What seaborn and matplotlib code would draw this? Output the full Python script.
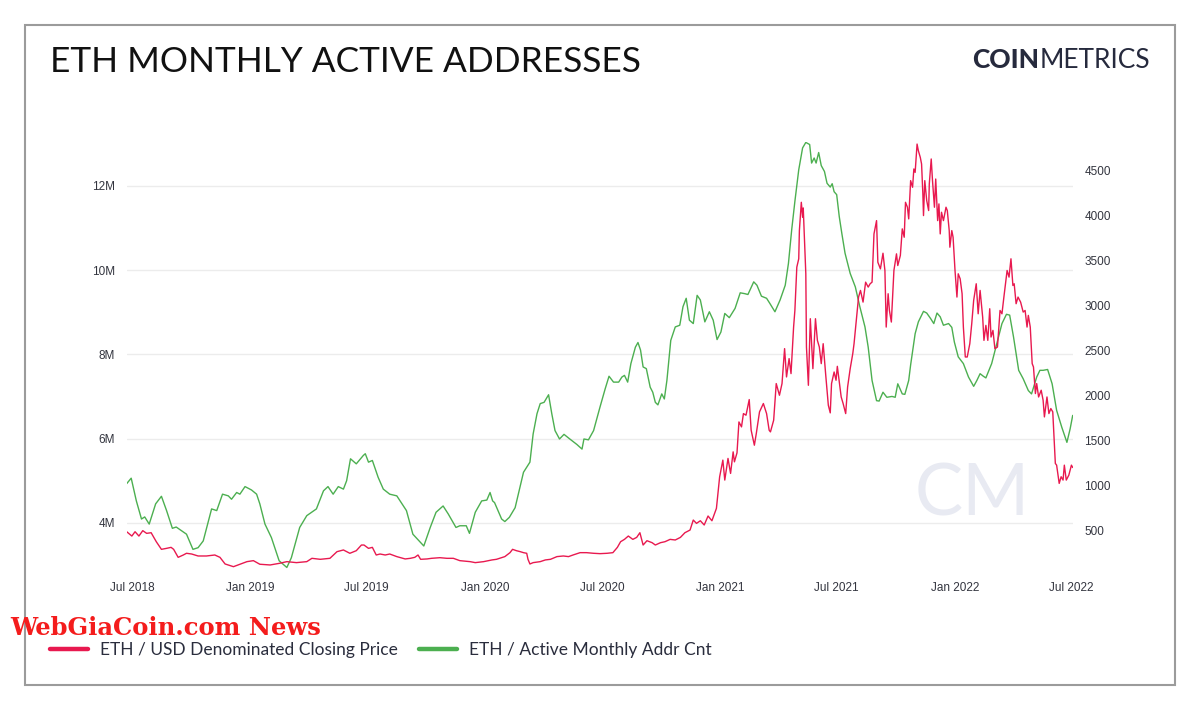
import pandas as pd
import seaborn as sns
import matplotlib.pyplot as plt
import matplotlib.dates as mdates
from matplotlib.lines import Line2D
from matplotlib.patches import Rectangle

# ETH monthly active addresses (millions)
addr_dates = [
    "2018-06-23", "2018-06-30", "2018-07-08", "2018-07-16", "2018-07-21", "2018-07-28", "2018-08-07", "2018-08-16",
    "2018-08-24", "2018-09-02", "2018-09-08", "2018-09-24", "2018-10-04", "2018-10-12", "2018-10-20", "2018-11-02",
    "2018-11-10", "2018-11-19", "2018-11-28", "2018-12-03", "2018-12-11", "2018-12-16", "2018-12-24", "2019-01-03",
    "2019-01-11", "2019-01-16", "2019-01-24", "2019-02-03", "2019-02-15", "2019-02-21", "2019-02-27", "2019-03-06",
    "2019-03-19", "2019-03-30", "2019-04-14", "2019-04-25", "2019-05-02", "2019-05-10", "2019-05-18", "2019-05-26",
    "2019-05-31", "2019-06-06", "2019-06-15", "2019-06-26", "2019-06-29", "2019-07-04", "2019-07-10", "2019-07-19",
    "2019-07-27", "2019-08-06", "2019-08-17", "2019-09-01", "2019-09-11", "2019-09-28", "2019-10-08", "2019-10-17",
    "2019-10-28", "2019-11-05", "2019-11-17", "2019-11-23", "2019-12-03", "2019-12-08", "2019-12-17", "2019-12-27",
    "2020-01-04", "2020-01-09", "2020-01-13", "2020-01-16", "2020-01-27", "2020-02-01", "2020-02-08", "2020-02-17",
    "2020-03-01", "2020-03-11", "2020-03-16", "2020-03-22", "2020-03-27", "2020-04-02", "2020-04-09", "2020-04-14",
    "2020-04-19", "2020-04-26", "2020-05-03", "2020-05-12", "2020-05-23", "2020-05-31", "2020-06-03", "2020-06-10",
    "2020-06-18", "2020-06-28", "2020-07-06", "2020-07-12", "2020-07-19", "2020-07-27", "2020-08-01", "2020-08-05",
    "2020-08-10", "2020-08-15", "2020-08-22", "2020-08-26", "2020-08-30", "2020-09-03", "2020-09-08", "2020-09-14",
    "2020-09-18", "2020-09-22", "2020-09-26", "2020-10-02", "2020-10-06", "2020-10-10", "2020-10-16", "2020-10-23",
    "2020-10-30", "2020-11-04", "2020-11-09", "2020-11-14", "2020-11-20", "2020-11-26", "2020-12-01", "2020-12-08",
    "2020-12-15", "2020-12-21", "2020-12-27", "2021-01-02", "2021-01-08", "2021-01-15", "2021-01-24", "2021-02-01",
    "2021-02-08", "2021-02-13", "2021-02-22", "2021-02-27", "2021-03-06", "2021-03-14", "2021-03-19", "2021-03-27",
    "2021-04-04", "2021-04-12", "2021-04-17", "2021-04-22", "2021-04-27", "2021-05-03", "2021-05-09", "2021-05-14",
    "2021-05-20", "2021-05-23", "2021-05-27", "2021-05-30", "2021-06-03", "2021-06-07", "2021-06-12", "2021-06-16",
    "2021-06-21", "2021-06-24", "2021-06-27", "2021-07-01", "2021-07-05", "2021-07-09", "2021-07-14", "2021-07-22",
    "2021-07-30", "2021-08-06", "2021-08-14", "2021-08-19", "2021-08-25", "2021-09-01", "2021-09-05", "2021-09-11",
    "2021-09-17", "2021-09-25", "2021-09-30", "2021-10-04", "2021-10-11", "2021-10-15", "2021-10-21", "2021-10-24",
    "2021-10-31", "2021-11-05", "2021-11-13", "2021-11-18", "2021-11-24", "2021-11-29", "2021-12-04", "2021-12-09",
    "2021-12-14", "2021-12-22", "2021-12-27", "2021-12-31", "2022-01-06", "2022-01-14", "2022-01-22", "2022-01-30",
    "2022-02-04", "2022-02-09", "2022-02-14", "2022-02-18", "2022-02-27", "2022-03-07", "2022-03-15", "2022-03-22",
    "2022-03-27", "2022-04-02", "2022-04-10", "2022-04-17", "2022-04-25", "2022-04-30", "2022-05-08", "2022-05-13",
    "2022-05-18", "2022-05-25", "2022-06-01", "2022-06-08", "2022-06-16", "2022-06-24", "2022-06-29", "2022-07-03",
]
addr_millions = [
    4.93, 5.06, 4.52, 4.09, 4.14, 3.97, 4.45, 4.63,
    4.29, 3.87, 3.90, 3.73, 3.37, 3.41, 3.57, 4.33,
    4.29, 4.68, 4.64, 4.56, 4.72, 4.68, 4.86, 4.78,
    4.68, 4.45, 3.97, 3.65, 3.10, 3.02, 2.94, 3.17,
    3.89, 4.17, 4.33, 4.76, 4.86, 4.68, 4.86, 4.80,
    5.00, 5.52, 5.40, 5.60, 5.64, 5.44, 5.48, 5.08,
    4.80, 4.68, 4.64, 4.29, 3.73, 3.45, 3.89, 4.25,
    4.40, 4.21, 3.89, 3.93, 3.93, 3.75, 4.25, 4.52,
    4.54, 4.72, 4.52, 4.48, 4.09, 4.03, 4.13, 4.36,
    5.20, 5.44, 6.11, 6.59, 6.83, 6.86, 7.04, 6.59,
    6.19, 5.99, 6.10, 5.99, 5.86, 5.75, 5.99, 5.97,
    6.19, 6.75, 7.18, 7.48, 7.34, 7.34, 7.46, 7.50,
    7.34, 7.78, 8.17, 8.28, 8.10, 7.70, 7.66, 7.22,
    7.10, 6.86, 6.80, 7.06, 6.94, 7.38, 8.33, 8.65,
    8.69, 9.13, 9.33, 8.81, 8.73, 9.40, 9.29, 8.77,
    9.01, 8.81, 8.35, 8.53, 8.97, 8.87, 9.09, 9.46,
    9.44, 9.42, 9.72, 9.64, 9.38, 9.33, 9.21, 9.01,
    9.29, 9.64, 10.16, 10.95, 11.63, 12.38, 12.90, 13.03,
    12.98, 12.54, 12.66, 12.54, 12.79, 12.48, 12.34, 12.06,
    11.97, 12.05, 11.86, 11.79, 11.27, 10.87, 10.40, 9.92,
    9.60, 9.13, 8.65, 8.17, 7.38, 6.90, 6.89, 7.10,
    6.98, 7.00, 6.98, 7.30, 7.06, 7.05, 7.38, 7.75,
    8.49, 8.77, 9.02, 8.98, 8.85, 8.73, 8.98, 8.89,
    8.69, 8.73, 8.64, 8.29, 7.94, 7.78, 7.46, 7.24,
    7.38, 7.54, 7.48, 7.44, 7.78, 8.26, 8.73, 8.95,
    8.93, 8.41, 7.62, 7.42, 7.14, 7.06, 7.46, 7.62,
    7.62, 7.64, 7.30, 6.67, 6.27, 5.91, 6.23, 6.55,
]

# ETH / USD closing price
price_dates = [
    "2018-06-23", "2018-07-01", "2018-07-06", "2018-07-12", "2018-07-18", "2018-07-24", "2018-07-31", "2018-08-08",
    "2018-08-16", "2018-08-24", "2018-08-31", "2018-09-04", "2018-09-11", "2018-09-19", "2018-09-24", "2018-10-02",
    "2018-10-12", "2018-10-25", "2018-11-07", "2018-11-15", "2018-11-23", "2018-12-06", "2018-12-13", "2018-12-27",
    "2019-01-06", "2019-01-16", "2019-02-01", "2019-02-16", "2019-02-27", "2019-03-14", "2019-03-30", "2019-04-07",
    "2019-04-20", "2019-05-05", "2019-05-16", "2019-05-26", "2019-06-05", "2019-06-15", "2019-06-23", "2019-06-27",
    "2019-07-04", "2019-07-10", "2019-07-16", "2019-07-22", "2019-07-30", "2019-08-06", "2019-08-17", "2019-08-30",
    "2019-09-07", "2019-09-14", "2019-09-19", "2019-09-23", "2019-10-03", "2019-10-10", "2019-10-23", "2019-11-03",
    "2019-11-13", "2019-11-23", "2019-12-09", "2019-12-17", "2019-12-30", "2020-01-12", "2020-01-19", "2020-02-01",
    "2020-02-09", "2020-02-13", "2020-02-19", "2020-02-25", "2020-03-01", "2020-03-06", "2020-03-08", "2020-03-11",
    "2020-03-16", "2020-03-27", "2020-04-04", "2020-04-12", "2020-04-22", "2020-05-02", "2020-05-10", "2020-05-17",
    "2020-05-28", "2020-06-07", "2020-06-18", "2020-06-28", "2020-07-09", "2020-07-18", "2020-07-25", "2020-07-30",
    "2020-08-05", "2020-08-11", "2020-08-18", "2020-08-24", "2020-08-29", "2020-09-03", "2020-09-09", "2020-09-17",
    "2020-09-22", "2020-09-30", "2020-10-07", "2020-10-15", "2020-10-23", "2020-10-31", "2020-11-07", "2020-11-15",
    "2020-11-20", "2020-11-25", "2020-12-01", "2020-12-07", "2020-12-13", "2020-12-19", "2020-12-26", "2020-12-31",
    "2021-01-05", "2021-01-08", "2021-01-13", "2021-01-17", "2021-01-21", "2021-01-23", "2021-01-27", "2021-01-30",
    "2021-02-03", "2021-02-06", "2021-02-10", "2021-02-15", "2021-02-18", "2021-02-23", "2021-02-26", "2021-03-03",
    "2021-03-09", "2021-03-14", "2021-03-18", "2021-03-20", "2021-03-25", "2021-03-29", "2021-04-03", "2021-04-07",
    "2021-04-11", "2021-04-14", "2021-04-18", "2021-04-21", "2021-04-25", "2021-04-27", "2021-04-30", "2021-05-03",
    "2021-05-04", "2021-05-07", "2021-05-09", "2021-05-10", "2021-05-12", "2021-05-14", "2021-05-15", "2021-05-18",
    "2021-05-21", "2021-05-25", "2021-05-29", "2021-06-01", "2021-06-04", "2021-06-07", "2021-06-10", "2021-06-14",
    "2021-06-18", "2021-06-21", "2021-06-23", "2021-06-27", "2021-06-30", "2021-07-02", "2021-07-05", "2021-07-08",
    "2021-07-11", "2021-07-15", "2021-07-18", "2021-07-22", "2021-07-26", "2021-07-28", "2021-07-31", "2021-08-04",
    "2021-08-07", "2021-08-11", "2021-08-15", "2021-08-19", "2021-08-22", "2021-08-25", "2021-08-28", "2021-09-01",
    "2021-09-03", "2021-09-07", "2021-09-11", "2021-09-14", "2021-09-16", "2021-09-19", "2021-09-21", "2021-09-24",
    "2021-09-28", "2021-10-02", "2021-10-04", "2021-10-08", "2021-10-11", "2021-10-14", "2021-10-16", "2021-10-19",
    "2021-10-21", "2021-10-24", "2021-10-27", "2021-10-29", "2021-10-31", "2021-11-03", "2021-11-05", "2021-11-08",
    "2021-11-10", "2021-11-12", "2021-11-13", "2021-11-15", "2021-11-18", "2021-11-21", "2021-11-22", "2021-11-25",
    "2021-11-27", "2021-11-30", "2021-12-02", "2021-12-05", "2021-12-07", "2021-12-09", "2021-12-11", "2021-12-14",
    "2021-12-18", "2021-12-20", "2021-12-23", "2021-12-24", "2021-12-27", "2021-12-29", "2022-01-01", "2022-01-04",
    "2022-01-06", "2022-01-09", "2022-01-12", "2022-01-14", "2022-01-17", "2022-01-20", "2022-01-24", "2022-01-27",
    "2022-01-30", "2022-02-03", "2022-02-06", "2022-02-09", "2022-02-13", "2022-02-15", "2022-02-18", "2022-02-21",
    "2022-02-24", "2022-02-26", "2022-03-01", "2022-03-04", "2022-03-08", "2022-03-12", "2022-03-15", "2022-03-18",
    "2022-03-23", "2022-03-26", "2022-03-29", "2022-04-01", "2022-04-03", "2022-04-06", "2022-04-09", "2022-04-13",
    "2022-04-17", "2022-04-20", "2022-04-23", "2022-04-25", "2022-04-28", "2022-05-01", "2022-05-03", "2022-05-06",
    "2022-05-08", "2022-05-11", "2022-05-15", "2022-05-18", "2022-05-20", "2022-05-24", "2022-05-27", "2022-05-30",
    "2022-06-02", "2022-06-06", "2022-06-08", "2022-06-12", "2022-06-15", "2022-06-18", "2022-06-20", "2022-06-23",
    "2022-06-27", "2022-07-01", "2022-07-03",
]
price_usd = [
    481, 433, 481, 433, 493, 463, 470, 370,
    285, 296, 307, 285, 196, 222, 241, 233,
    211, 211, 222, 196, 122, 92, 111, 148,
    159, 119, 111, 130, 148, 137, 148, 185,
    174, 185, 259, 278, 241, 270, 333, 333,
    296, 307, 222, 233, 222, 233, 204, 178,
    185, 196, 222, 174, 178, 185, 192, 185,
    185, 159, 148, 137, 148, 167, 174, 204,
    248, 285, 270, 259, 248, 241, 174, 122,
    137, 148, 167, 174, 204, 211, 204, 222,
    248, 248, 241, 237, 241, 248, 307, 370,
    396, 433, 396, 418, 470, 333, 381, 359,
    333, 359, 370, 396, 389, 418, 470, 500,
    611, 574, 603, 556, 656, 603, 741, 1092,
    1278, 1056, 1297, 1130, 1370, 1259, 1359, 1703,
    1648, 1796, 1778, 1952, 1611, 1444, 1574, 1815,
    1908, 1796, 1611, 1592, 1722, 2130, 2000, 2130,
    2519, 2204, 2408, 2241, 2759, 2944, 3426, 3519,
    3833, 4148, 3981, 4085, 3722, 3352, 2537, 2111,
    2852, 2296, 2852, 2611, 2537, 2352, 2574, 2222,
    1889, 1804, 2130, 2259, 2167, 2322, 2148, 1981,
    1908, 1796, 2093, 2296, 2463, 2574, 2796, 3093,
    3167, 3037, 3259, 3204, 3241, 3259, 3796, 3944,
    3481, 3407, 3581, 3389, 2759, 3130, 2944, 2815,
    3389, 3574, 3444, 3556, 3852, 3759, 4148, 4093,
    3963, 4389, 4315, 4519, 4481, 4796, 4722, 4648,
    4574, 4241, 4000, 4389, 4167, 4056, 4352, 4630,
    4389, 4093, 4407, 3944, 4130, 3796, 4037, 3944,
    4093, 4056, 3833, 3648, 3833, 3759, 3389, 3093,
    3352, 3296, 3130, 2759, 2426, 2426, 2574, 2796,
    3056, 3241, 2907, 3167, 2870, 2611, 2778, 2611,
    2963, 2648, 2722, 2519, 2537, 2944, 2907, 3093,
    3389, 3315, 3519, 3222, 3241, 3019, 3093, 3037,
    2926, 2944, 2759, 2889, 2759, 2352, 2315, 2019,
    2130, 1981, 2056, 1944, 1759, 1981, 1796, 1852,
    1815, 1241, 1222, 1019, 1093, 1056, 1222, 1056,
    1111, 1222, 1196,
]

x_ticks = ["2018-07-01", "2019-01-01", "2019-07-01", "2020-01-01", "2020-07-01",
           "2021-01-01", "2021-07-01", "2022-01-01", "2022-07-01"]
addr_ticks = [4, 6, 8, 10, 12]
price_ticks = [500, 1000, 1500, 2000, 2500, 3000, 3500, 4000, 4500]
legend_labels = ["ETH / USD Denominated Closing Price", "ETH / Active Monthly Addr Cnt"]

RED = "#e8194f"
GREEN = "#4caf50"
TICK_COLOR = "#33353f"
W, H = 1200, 709

sns.set_theme(style="white")
plt.rcParams["font.family"] = ["Lato", "DejaVu Sans"]

addr = pd.DataFrame({"date": pd.to_datetime(addr_dates), "addr": addr_millions})
price = pd.DataFrame({"date": pd.to_datetime(price_dates), "price": price_usd})

fig = plt.figure(figsize=(12, 7.09), dpi=100)
ax = fig.add_axes([126.7 / W, 1 - 570 / H, 946 / W, 428 / H])
ax2 = ax.twinx()

sns.lineplot(data=addr, x="date", y="addr", ax=ax, color=GREEN, linewidth=1.0)
sns.lineplot(data=price, x="date", y="price", ax=ax2, color=RED, linewidth=1.0)

ax.set_xlim(pd.Timestamp("2018-06-23"), pd.Timestamp("2022-07-03"))
ax.set_ylim(2.88, 13.04)
ax2.set_ylim(55, 4819)

ax.set_xticks(pd.to_datetime(x_ticks))
ax.xaxis.set_major_formatter(mdates.DateFormatter("%b %Y"))
ax.set_yticks(addr_ticks)
ax.set_yticklabels([f"{v}M" for v in addr_ticks])
ax2.set_yticks(price_ticks)
ax2.set_yticklabels([str(v) for v in price_ticks])

for a in (ax, ax2):
    a.set_xlabel("")
    a.set_ylabel("")
    for s in a.spines.values():
        s.set_visible(False)
    a.tick_params(length=0, pad=8.5, labelsize=8.5, colors=TICK_COLOR)
    for lab in a.get_xticklabels() + a.get_yticklabels():
        lab.set_family(["Liberation Sans", "DejaVu Sans"])

ax.grid(axis="y", color="#ececec", linewidth=1)
ax.grid(axis="x", visible=False)
ax2.grid(False)

# CM watermark inside the plot
ax.text(0.894, 0.175, "CM", transform=ax.transAxes, ha="center", va="center",
        fontsize=52, fontweight="normal", color="#e8eaf2", zorder=0)

# outer frame
fig.patches.append(Rectangle((25 / W, 1 - 685 / H), 1150 / W, 660 / H, transform=fig.transFigure,
                             fill=False, edgecolor="#9b9b9b", linewidth=1.5))

fig.text(50 / W, 1 - 62 / H, "ETH MONTHLY ACTIVE ADDRESSES", fontsize=25.4, va="center", color="#111111")

# logo
fig.canvas.draw()
metrics = fig.text(1150 / W, 1 - 60 / H, "METRICS", fontsize=19, fontweight="normal",
                   ha="right", va="center", color="#262a3d")
fig.canvas.draw()
x0 = metrics.get_window_extent().x0 / W
fig.text(x0, 1 - 60 / H, "COIN", fontsize=19, fontweight="black", ha="right", va="center", color="#262a3d")

# legend
handles = [Line2D([], [], color=RED, linewidth=3.2), Line2D([], [], color=GREEN, linewidth=3.2)]
leg = fig.legend(handles, legend_labels, loc="center left", bbox_to_anchor=(50 / W, 1 - 650 / H),
                 ncol=2, frameon=False, fontsize=12.5, handlelength=2.2, handletextpad=0.7,
                 columnspacing=1.2, borderpad=0, borderaxespad=0)
for t in leg.get_texts():
    t.set_color("#2a2d3d")

fig.text(10 / W, 1 - 628 / H, "WebGiaCoin.com News", fontsize=17.5, fontweight="bold",
         family=["DejaVu Serif"], color="#f41c1c", va="center")

fig.savefig("out.png", dpi=100)
